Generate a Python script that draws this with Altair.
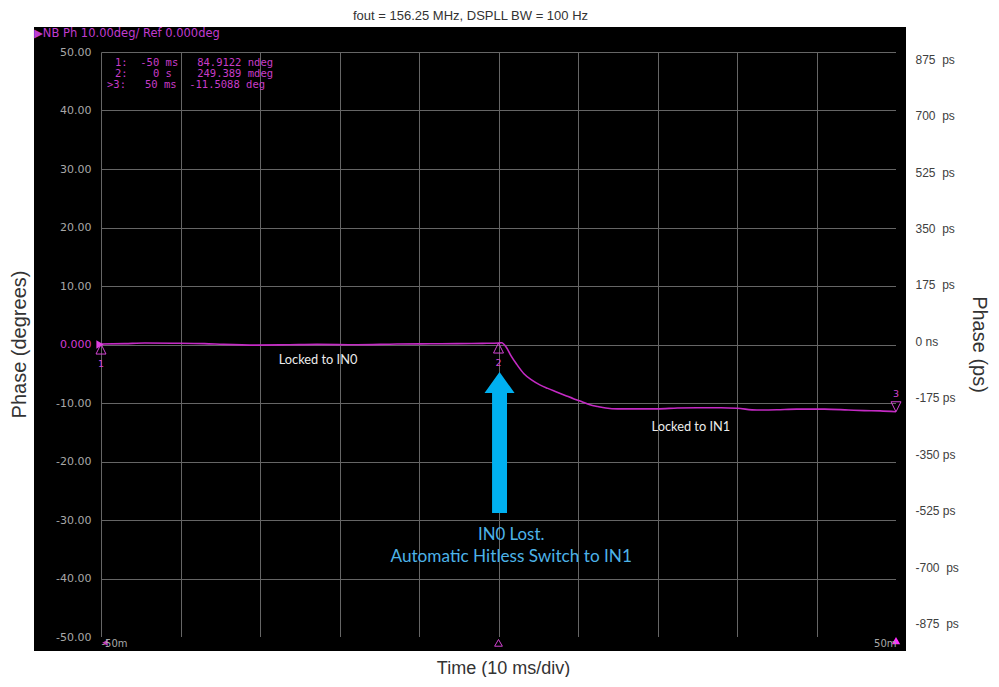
import json
import altair as alt
import pandas as pd

# ---------------- data ----------------
time_ms = [-50, -47, -44.5, -41, -37, -34.6, -30.4, -26.5, -22.8, -17.8, -12.8, -8.5, -5.2, -2,
           -0.5, 0, 0.4, 1.0, 1.6, 2.3, 3.2, 4.2, 5.2, 6.2, 7.3, 8.4, 9.5, 10.5, 11.5, 12.5,
           13.5, 15, 17.5, 20, 22.5, 25, 28, 30, 32.5, 35, 37.5, 41, 44, 46, 48, 50]
phase_deg = [0.08, 0.15, 0.25, 0.22, 0.15, 0.02, -0.1, -0.05, 0.02, -0.05, 0.08, 0.12, 0.15, 0.2,
             0.22, 0.25, 0.3, -0.5, -2.0, -3.4, -5.0, -6.1, -6.9, -7.5, -8.1, -8.7, -9.3, -9.8, -10.3, -10.6,
             -10.85, -11.0, -11.0, -11.0, -10.85, -10.8, -10.8, -10.9, -11.2, -11.15, -11.05, -11.05,
             -11.2, -11.3, -11.35, -11.5]

time_ticks = [-50, -40, -30, -20, -10, 0, 10, 20, 30, 40, 50]
time_label_vals = [-50, 50]
time_label_text = ["-50m", "50m"]

deg_ticks = [50, 40, 30, 20, 10, 0, -10, -20, -30, -40, -50]
deg_labels = ["50.00", "40.00", "30.00", "20.00", "10.00", "0.000",
              "-10.00", "-20.00", "-30.00", "-40.00", "-50.00"]

ps_ticks = [875, 700, 525, 350, 175, 0, -175, -350, -525, -700, -875]
ps_labels = ["875  ps", "700  ps", "525  ps", "350  ps", "175  ps", "0 ns",
             "-175 ps", "-350 ps", "-525 ps", "-700  ps", "-875  ps"]

marker_id = ["1", "2", "3"]
marker_t = [-50, 0, 50]
marker_p = [0.08, 0.25, -11.5]

readout_lines = [" 1:  -50 ms   84.9122 ndeg",
                 " 2:    0 s    249.389 mdeg",
                 ">3:   50 ms  -11.5088 deg"]
header_text = "\u25B6NB Ph 10.00deg/ Ref 0.000deg"

ann_text = ["Locked to IN0", "Locked to IN1", "IN0 Lost.", "Automatic Hitless Switch to IN1"]
ann_t = [-22.7, 24.2, 1.6, 1.6]
ann_p = [-2.65, -14.1, -32.6, -36.3]
ann_color = ["#ececec", "#ececec", "#4db3e8", "#4db3e8"]
ann_size = [12.8, 12.8, 16.8, 17.2]

arrow_t = [0.13]
arrow_p = [-16.75]

bottom_t = [-50, 0, 50]
bottom_p = [-51.0, -51.0, -50.6]

# ---------------- styling ----------------
MAG = "#c42ac4"
MARK = "#d444d4"
GRID = "#666666"

def nb(s):
    # keep runs of spaces (and a leading blank) in the monospaced readout
    s = s.replace(" ", "\u00a0")
    if s.startswith("\u00a0"):
        s = "\u2800" + s[1:]
    return s

def lookup_expr(ticks, labels):
    return "%s[indexof(%s, datum.value)]" % (
        json.dumps([l.replace(" ", "\u00a0") for l in labels], ensure_ascii=False), json.dumps(ticks))

XS = alt.Scale(domain=[-50, 50], nice=False, zero=False)
YS = alt.Scale(domain=[-50, 50], nice=False, zero=False)
PS = alt.Scale(domain=[-915.3, 896.7], nice=False, zero=False)

one = pd.DataFrame({"a": [0]})
df_line = pd.DataFrame({"t": time_ms, "p": phase_deg})
df_mk = pd.DataFrame({"t": marker_t, "p": marker_p, "id": marker_id})
df_ann = pd.DataFrame({"t": ann_t, "p": ann_p, "txt": ann_text, "c": ann_color, "s": ann_size})
df_arrow = pd.DataFrame({"t": arrow_t, "p": arrow_p})
df_bottom = pd.DataFrame({"t": bottom_t, "p": bottom_p})
df_ps = pd.DataFrame({"ps": ps_ticks})

# black frame outside the plot area (strips)
def strip(x1, x2, y1, y2):
    return alt.Chart(one).mark_rect(color="black").encode(
        x=alt.value(x1), x2=alt.value(x2), y=alt.value(y1), y2=alt.value(y2))

strips = [strip(-67, 0, -25, 599), strip(795, 805, -25, 599),
          strip(0, 795, -25, 0), strip(0, 795, 585, 599)]

xq = lambda: alt.X("t:Q", scale=XS, axis=None)
yq = lambda: alt.Y("p:Q", scale=YS, axis=None)

# trace with grid axes (behind marks)
line = alt.Chart(df_line).mark_line(color=MAG, strokeWidth=1.6, interpolate="monotone").encode(
    x=alt.X("t:Q", scale=XS, axis=alt.Axis(
        orient="bottom", values=time_ticks, grid=True, gridColor=GRID, gridWidth=1,
        labels=False, ticks=False, domain=False, title=None, zindex=0)),
    y=alt.Y("p:Q", scale=YS, axis=alt.Axis(
        orient="left", values=deg_ticks, grid=True, gridColor=GRID, gridWidth=1,
        labels=False, ticks=False, domain=False, title=None, zindex=0)),
)

# marker triangles 1 & 2 (carry the label axes, drawn on top)
mk12 = alt.Chart(df_mk[df_mk.id != "3"]).mark_point(
    shape="M0,0L0.5,1L-0.5,1Z", size=400, filled=False, color=MARK, strokeWidth=1, opacity=1
).encode(
    x=alt.X("t:Q", scale=XS, axis=alt.Axis(
        orient="bottom", values=time_label_vals, labelExpr=lookup_expr(time_label_vals, time_label_text),
        grid=False, ticks=False, domain=False, labelPadding=1, labelFont="DejaVu Sans",
        labelFontSize=10, labelColor="#a8a8a8", labelFlush=True,
        title="Time (10 ms/div)", titleX=402, titleY=31, titleBaseline="middle",
        titleFont="Liberation Sans", titleFontSize=18, titleFontWeight="normal", titleColor="#333333",
        zindex=1)),
    y=alt.Y("p:Q", scale=YS, axis=alt.Axis(
        orient="left", values=deg_ticks, labelExpr=lookup_expr(deg_ticks, deg_labels),
        grid=False, ticks=False, domain=False, labelPadding=10, labelFont="DejaVu Sans",
        labelFontSize=11,
        labelColor={"condition": {"test": "datum.value === 0", "value": "#d23cd2"}, "value": "#a8a8a8"},
        title="Phase (degrees)", titleX=-82, titleY=292, titleAngle=270, titleBaseline="middle",
        titleFont="Liberation Sans", titleFontSize=20, titleFontWeight="normal", titleColor="#333333",
        zindex=1)),
)

mk3 = alt.Chart(df_mk[df_mk.id == "3"]).mark_point(
    shape="M0,0L0.5,-1L-0.5,-1Z", size=400, filled=False, color=MARK, strokeWidth=1, opacity=1
).encode(x=xq(), y=yq())

mk_txt12 = alt.Chart(df_mk[df_mk.id != "3"]).mark_text(
    font="DejaVu Sans", fontSize=9.5, color=MARK, dy=20).encode(x=xq(), y=yq(), text="id:N")
mk_txt3 = alt.Chart(df_mk[df_mk.id == "3"]).mark_text(
    font="DejaVu Sans", fontSize=9.5, color=MARK, dy=-18).encode(x=xq(), y=yq(), text="id:N")

ref_mark = alt.Chart(pd.DataFrame({"t": [-50], "p": [0]})).mark_point(
    shape="triangle-right", size=70, filled=True, color="#e040e0", opacity=1, xOffset=-1
).encode(x=xq(), y=yq())

bot_fill = alt.Chart(df_bottom.iloc[[2]]).mark_point(
    shape="triangle-up", size=70, filled=True, color="#ff30ff", opacity=1).encode(x=xq(), y=yq())
bot_left = alt.Chart(df_bottom.iloc[[0]]).mark_point(
    shape="triangle-left", size=40, filled=True, color="#c040c0", opacity=1, xOffset=4).encode(x=xq(), y=yq())
bot_out = alt.Chart(df_bottom.iloc[[1]]).mark_point(
    shape="triangle-up", size=60, filled=False, color=MARK, strokeWidth=1, opacity=1).encode(x=xq(), y=yq())

ARROW = "M0,-1L0.213,-0.702L0.106,-0.702L0.106,1L-0.106,1L-0.106,-0.702L-0.213,-0.702Z"
arrow = alt.Chart(df_arrow).mark_point(
    shape=ARROW, size=19881, filled=True, color="#00b0f0", opacity=1, strokeWidth=0
).encode(x=xq(), y=yq())

ann = alt.Chart(df_ann).mark_text(font="Lato", align="center", baseline="middle").encode(
    x=xq(), y=yq(), text="txt:N", color=alt.Color("c:N", scale=None),
    size=alt.Size("s:Q", scale=None))

readout = alt.Chart(one).mark_text(
    text=[nb(s) for s in readout_lines], font="DejaVu Sans Mono", fontSize=10.5, lineHeight=11.2,
    color="#c83cc8", align="left", baseline="top"
).encode(x=alt.value(6), y=alt.value(6))

header = alt.Chart(one).mark_text(
    text=header_text, font="DejaVu Sans", fontSize=11.5, color="#c03cd0", align="left", baseline="middle"
).encode(x=alt.value(-67), y=alt.value(-18))

ps_axis = alt.Chart(df_ps).mark_point(opacity=0).encode(
    x=alt.value(0),
    y=alt.Y("ps:Q", scale=PS, axis=alt.Axis(
        orient="right", values=ps_ticks, labelExpr=lookup_expr(ps_ticks, ps_labels),
        grid=False, ticks=False, domain=False, labelPadding=19, labelFont="Liberation Sans",
        labelFontSize=12, labelColor="#404040",
        title="Phase (ps)", titleX=82, titleY=292, titleAngle=90, titleBaseline="middle",
        titleFont="Liberation Sans", titleFontSize=20, titleFontWeight="normal", titleColor="#333333",
        zindex=0)),
)

chart = alt.layer(
    *strips, line, mk12, mk3, mk_txt12, mk_txt3, ref_mark, bot_fill, bot_left, bot_out,
    arrow, ann, readout, header, ps_axis
).resolve_scale(y="independent").resolve_axis(x="independent", y="independent").properties(
    width=795, height=585,
    background="white",
    padding={"left": 93, "top": 44, "right": 95, "bottom": 40},
    autosize=alt.AutoSizeParams(type="none"),
    title=alt.TitleParams("fout = 156.25 MHz, DSPLL BW = 100 Hz", font="Liberation Sans", fontSize=13,
                          fontWeight="normal", color="#333333", offset=4, dx=-28, anchor="middle"),
).configure_view(fill="black", strokeWidth=0)

chart.save("out.html", embed_options={"renderer": "svg", "actions": False})
